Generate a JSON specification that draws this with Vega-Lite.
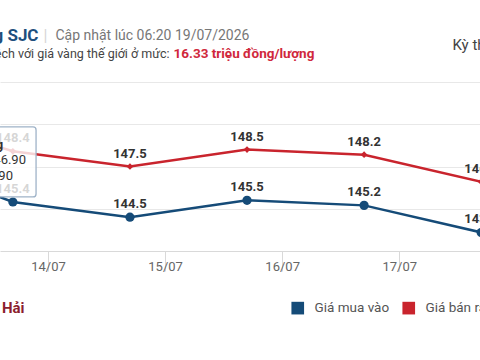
{
  "$schema": "https://vega.github.io/schema/vega-lite/v6.json",
  "width": 480,
  "height": 169,
  "autosize": {"type": "none"},
  "padding": {"left": 0, "top": 82, "right": 0, "bottom": 109},
  "background": "white",
  "config": {"view": {"stroke": null}, "font": "Roboto"},
  "datasets": {
    "prices": [
      {"day": 12.7, "series": "Giá mua vào", "price": 148.0},
      {"day": 13.7, "series": "Giá mua vào", "price": 145.4},
      {"day": 14.7, "series": "Giá mua vào", "price": 144.5},
      {"day": 15.7, "series": "Giá mua vào", "price": 145.5},
      {"day": 16.7, "series": "Giá mua vào", "price": 145.2},
      {"day": 17.7, "series": "Giá mua vào", "price": 143.6},
      {"day": 12.7, "series": "Giá bán ra", "price": 150.6},
      {"day": 13.7, "series": "Giá bán ra", "price": 148.4},
      {"day": 14.7, "series": "Giá bán ra", "price": 147.5},
      {"day": 15.7, "series": "Giá bán ra", "price": 148.5},
      {"day": 16.7, "series": "Giá bán ra", "price": 148.2},
      {"day": 17.7, "series": "Giá bán ra", "price": 146.6}
    ],
    "tip": [{"x1": 13.5, "x2": 13.898, "y1": 149.84, "y2": 145.7}],
    "tiphead": [{"x": 13.617, "y": 148.77, "t": "Vàng"}],
    "tiptext": [
      {"x": 13.812, "y": 147.88, "t": "146.90"},
      {"x": 13.701, "y": 146.94, "t": "145.90"}
    ]
  },
  "resolve": {"axis": {"x": "independent", "y": "independent"}},
  "layer": [
    {
      "data": {"name": "prices"},
      "mark": {"type": "line", "strokeWidth": 2.5},
      "encoding": {
        "x": {
          "field": "day", "type": "quantitative",
          "scale": {"domain": [13.59, 17.69], "nice": false, "zero": false},
          "axis": {
            "orient": "bottom", "offset": 0, "values": [14, 15, 16, 17],
            "labelExpr": "datum.value + '/07'", "grid": false,
            "domainColor": "#d9d9d9", "tickColor": "#d9d9d9", "tickSize": 20,
            "labelPadding": -11, "labelColor": "#666", "labelFontSize": 13, "labelFont": "Roboto",
            "title": "Bảo Tín Mạnh Hải", "titleX": 24, "titleY": 56, "titleAlign": "right",
            "titleBaseline": "middle", "titleColor": "#8c1d2e", "titleFontSize": 15,
            "titleFontWeight": "bold", "titleFont": "Roboto"
          }
        },
        "y": {
          "field": "price", "type": "quantitative",
          "scale": {"domain": [142.5, 152.5], "nice": false, "zero": false},
          "axis": {
            "orient": "left", "offset": 0, "values": [145, 147.5, 150, 152.5],
            "grid": true, "gridColor": "#e8e8e8", "labels": false, "ticks": false, "domain": false,
            "title": "Cập nhật lúc 06:20 19/07/2026", "titleAngle": 0, "titleX": 55, "titleY": -47,
            "titleAlign": "left", "titleBaseline": "middle", "titleColor": "#777",
            "titleFontSize": 14, "titleFontWeight": "normal", "titleFont": "Roboto"
          }
        },
        "color": {
          "field": "series", "type": "nominal",
          "scale": {"domain": ["Giá mua vào", "Giá bán ra"], "range": ["#154b78", "#c9242d"]},
          "legend": {
            "orient": "none", "legendX": 291, "legendY": 219, "direction": "horizontal",
            "title": null, "symbolType": "square", "symbolSize": 160, "symbolStrokeWidth": 0,
            "labelFontSize": 13.5, "labelColor": "#555", "labelFont": "Roboto", "labelOffset": 10,
            "columnPadding": 12, "padding": 0,
            "encode": {"symbols": {"update": {"fill": {"scale": "color", "field": "value"}, "shape": {"value": "square"}, "strokeWidth": {"value": 0}}}}
          }
        }
      }
    },
    {
      "data": {"name": "prices"},
      "mark": {"type": "point", "filled": true, "opacity": 1},
      "encoding": {
        "x": {
          "field": "day", "type": "quantitative",
          "scale": {"domain": [13.59, 17.69], "nice": false, "zero": false},
          "axis": {
            "orient": "top", "offset": 0, "labels": false, "ticks": false, "domain": false, "grid": false,
            "title": "Chênh lệch với giá vàng thế giới ở mức:", "titleX": 169, "titleY": -29,
            "titleAlign": "right", "titleBaseline": "middle", "titleColor": "#444",
            "titleFontSize": 12.5, "titleFontWeight": "normal", "titleFont": "Roboto"
          }
        },
        "y": {
          "field": "price", "type": "quantitative",
          "scale": {"domain": [142.5, 152.5], "nice": false, "zero": false},
          "axis": {
            "orient": "right", "offset": 0, "labels": false, "ticks": false, "domain": false, "grid": false,
            "title": "Kỳ theo", "titleAngle": 0, "titleX": -28, "titleY": -38,
            "titleAlign": "left", "titleBaseline": "middle", "titleColor": "#444",
            "titleFontSize": 15, "titleFontWeight": "normal", "titleFont": "Roboto"
          }
        },
        "color": {
          "field": "series", "type": "nominal",
          "scale": {"domain": ["Giá mua vào", "Giá bán ra"], "range": ["#154b78", "#c9242d"]}
        },
        "shape": {"condition": {"test": "datum.series === 'Giá mua vào'", "value": "circle"}, "value": "diamond"},
        "size": {"condition": {"test": "datum.series === 'Giá mua vào'", "value": 85}, "value": 45}
      }
    },
    {
      "data": {"name": "prices"},
      "mark": {"type": "text", "fontWeight": "bold", "fontSize": 13, "dy": -13, "color": "#333", "font": "Roboto"},
      "encoding": {
        "x": {
          "field": "day", "type": "quantitative",
          "scale": {"domain": [13.59, 17.69], "nice": false, "zero": false},
          "axis": {
            "orient": "top", "offset": 0, "labels": false, "ticks": false, "domain": false, "grid": false,
            "title": "16.33 triệu đồng/lượng", "titleX": 173, "titleY": -29,
            "titleAlign": "left", "titleBaseline": "middle", "titleColor": "#d0283c",
            "titleFontSize": 13.5, "titleFontWeight": "bold", "titleFont": "Roboto"
          }
        },
        "y": {
          "field": "price", "type": "quantitative",
          "scale": {"domain": [142.5, 152.5], "nice": false, "zero": false},
          "axis": {
            "orient": "left", "offset": 0, "labels": false, "ticks": false, "domain": false, "grid": false,
            "title": "|", "titleAngle": 0, "titleX": 45, "titleY": -47,
            "titleAlign": "center", "titleBaseline": "middle", "titleColor": "#d6d6d6",
            "titleFontSize": 16, "titleFontWeight": "normal", "titleFont": "Roboto"
          }
        },
        "text": {"field": "price", "type": "quantitative", "format": ".1f"}
      }
    },
    {
      "data": {"name": "tip"},
      "mark": {"type": "rect", "fill": "white", "fillOpacity": 0.8, "stroke": "#9fb3c8", "strokeWidth": 1.3, "cornerRadius": 3},
      "encoding": {
        "x": {
          "field": "x1", "type": "quantitative",
          "scale": {"domain": [13.59, 17.69], "nice": false, "zero": false},
          "axis": {
            "orient": "top", "offset": 0, "labels": false, "ticks": false, "domain": false, "grid": false,
            "title": "Giá vàng SJC", "titleX": 38, "titleY": -47,
            "titleAlign": "right", "titleBaseline": "middle", "titleColor": "#1e4f7d",
            "titleFontSize": 17, "titleFontWeight": "bold", "titleFont": "Roboto"
          }
        },
        "x2": {"field": "x2"},
        "y": {"field": "y1", "type": "quantitative", "scale": {"domain": [142.5, 152.5], "nice": false, "zero": false}, "axis": null},
        "y2": {"field": "y2"}
      }
    },
    {
      "data": {"name": "tiphead"},
      "mark": {"type": "text", "align": "right", "baseline": "middle", "fontSize": 13, "fontWeight": "bold", "color": "#333", "font": "Roboto"},
      "encoding": {
        "x": {"field": "x", "type": "quantitative", "scale": {"domain": [13.59, 17.69], "nice": false, "zero": false}, "axis": null},
        "y": {"field": "y", "type": "quantitative", "scale": {"domain": [142.5, 152.5], "nice": false, "zero": false}, "axis": null},
        "text": {"field": "t"}
      }
    },
    {
      "data": {"name": "tiptext"},
      "mark": {"type": "text", "align": "right", "baseline": "middle", "fontSize": 13, "color": "#333", "font": "Roboto"},
      "encoding": {
        "x": {"field": "x", "type": "quantitative", "scale": {"domain": [13.59, 17.69], "nice": false, "zero": false}, "axis": null},
        "y": {"field": "y", "type": "quantitative", "scale": {"domain": [142.5, 152.5], "nice": false, "zero": false}, "axis": null},
        "text": {"field": "t"}
      }
    }
  ]
}
